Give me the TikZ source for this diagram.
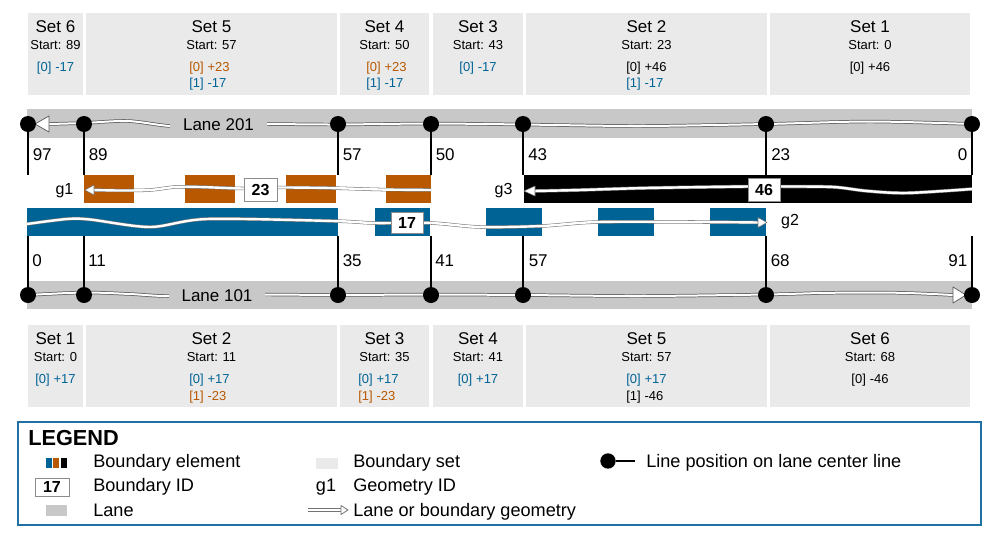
\documentclass[tikz,border=0pt]{standalone}
\usepackage{fontspec}
\setmainfont{Liberation Sans}
\usetikzlibrary{calc}
\definecolor{bblue}{RGB}{0,99,149}
\definecolor{borange}{RGB}{184,88,0}
\definecolor{setgray}{RGB}{234,234,234}
\definecolor{lanegray}{RGB}{200,200,200}
\definecolor{legblue}{RGB}{31,113,163}
\definecolor{idgray}{RGB}{140,140,140}
\newcommand\mkset[6]{%
  \node[setbox, anchor=north west, minimum width={(#3-#2)*0.75pt}] (#1) at (#2,#4) {};
  \node[settitle] (#1t) at ($(#1.north)+(0,13.3)$) {#5};
  \node[setstart] (#1s) at ($(#1.north)+(0,31.5)$) {Start: #6};
}
\begin{document}
\begin{tikzpicture}[x=0.75pt,y=-0.75pt,
  setbox/.style={fill=setgray, inner sep=0pt, outer sep=0pt, minimum height=61.5pt},
  settitle/.style={font=\fontsize{12.75}{15}\selectfont, inner sep=0pt, text height=9.1pt, text depth=0pt},
  setstart/.style={font=\fontsize{9.75}{12}\selectfont, inner sep=0pt, text height=7pt, text depth=0pt},
  entry/.style={setstart},
  numlbl/.style={font=\fontsize{12.75}{15}\selectfont, inner sep=0pt, text height=9.1pt, text depth=0pt},
  lanelbl/.style={fill=lanegray, font=\fontsize{12.75}{15}\selectfont, inner xsep=9.5pt, inner ysep=2pt, text height=9.1pt, text depth=0pt},
  glbl/.style={font=\fontsize{12}{14}\selectfont, inner sep=0pt, text height=8.6pt, text depth=0pt},
  dot/.style={circle, fill=black, inner sep=0pt, minimum size=12pt},
  tick/.style={line width=1.1pt},
  lanegeo/.style={draw=black!65, line width=0.55pt, double=white, double distance=1.5pt},
  lanehead/.style={draw=black!65, fill=white, line width=0.55pt, line join=round},
  bgeo/.style={draw=black!55, line width=0.4pt, double=white, double distance=1.8pt},
  bhead/.style={draw=black!55, fill=white, line width=0.4pt, line join=round},
  leggeo/.style={draw=black!55, line width=0.7pt, double=white, double distance=1.2pt},
  leghead/.style={draw=black!55, fill=white, line width=0.6pt, line join=round},
  idbox/.style={draw=idgray, fill=white, line width=0.6pt, font=\bfseries\fontsize{12}{14}\selectfont, inner sep=0pt, text height=8.6pt, text depth=0pt},
  legtitle/.style={font=\bfseries\fontsize{16.3}{19}\selectfont, inner sep=0pt, text height=11.7pt, text depth=0pt},
  legtext/.style={font=\fontsize{13.6}{16}\selectfont, inner sep=0pt, text height=9.7pt, text depth=0pt},
]
\useasboundingbox (0,0) rectangle (1000,536);

% ---------- top boundary sets ----------
\mkset{ts6}{28}{83}{13}{Set 6}{89}
\mkset{ts5}{86}{337}{13}{Set 5}{57}
\mkset{ts4}{340}{429}{13}{Set 4}{50}
\mkset{ts3}{433}{523}{13}{Set 3}{43}
\mkset{ts2}{526}{767}{13}{Set 2}{23}
\mkset{ts1}{770}{970}{13}{Set 1}{0}
\node[entry, text=bblue] (ts6a) at (55.5,67) {[0]\hspace{0.3em}-17};
\node[entry, text=borange, anchor=west] (ts5a) at (189,67) {[0]\hspace{0.3em}+23};
\node[entry, text=bblue, anchor=west] (ts5b) at (189,83.3) {[1]\hspace{0.3em}-17};
\node[entry, text=borange, anchor=west] (ts4a) at (366,67) {[0]\hspace{0.3em}+23};
\node[entry, text=bblue, anchor=west] (ts4b) at (366,83.3) {[1]\hspace{0.3em}-17};
\node[entry, text=bblue] (ts3a) at (478,67) {[0]\hspace{0.3em}-17};
\node[entry, anchor=west] (ts2a) at (626,67) {[0]\hspace{0.3em}+46};
\node[entry, text=bblue, anchor=west] (ts2b) at (626,83.3) {[1]\hspace{0.3em}-17};
\node[entry] (ts1a) at (870,67) {[0]\hspace{0.3em}+46};

% ---------- bottom boundary sets ----------
\mkset{bs1}{28}{83}{325}{Set 1}{0}
\mkset{bs2}{86}{337}{325}{Set 2}{11}
\mkset{bs3}{340}{429}{325}{Set 3}{35}
\mkset{bs4}{433}{523}{325}{Set 4}{41}
\mkset{bs5}{526}{767}{325}{Set 5}{57}
\mkset{bs6}{770}{970}{325}{Set 6}{68}
\node[entry, text=bblue] (bs1a) at (55.5,379) {[0]\hspace{0.3em}+17};
\node[entry, text=bblue, anchor=west] (bs2a) at (189,379) {[0]\hspace{0.3em}+17};
\node[entry, text=borange, anchor=west] (bs2b) at (189,395.7) {[1]\hspace{0.3em}-23};
\node[entry, text=bblue, anchor=west] (bs3a) at (358,379) {[0]\hspace{0.3em}+17};
\node[entry, text=borange, anchor=west] (bs3b) at (358,395.7) {[1]\hspace{0.3em}-23};
\node[entry, text=bblue] (bs4a) at (478,379) {[0]\hspace{0.3em}+17};
\node[entry, text=bblue, anchor=west] (bs5a) at (626,379) {[0]\hspace{0.3em}+17};
\node[entry, anchor=west] (bs5b) at (626,395.7) {[1]\hspace{0.3em}-46};
\node[entry] (bs6a) at (870,379) {[0]\hspace{0.3em}-46};

% ---------- lanes ----------
\fill[lanegray] (27,109) rectangle (972,138);
\fill[lanegray] (27,281) rectangle (972,309);
\draw[lanegeo] plot[smooth, tension=0.5] coordinates {(972,124) (870,121.5) (766,124) (640,126) (523,124.5) (431,123.5) (338,124.5) (266,124) (200,124) (170,126) (128,121) (84,123) (49,124)};
\draw[lanehead] (35,124) -- (49,116) -- (49,132) -- cycle;
\draw[lanegeo] plot[smooth, tension=0.5] coordinates {(28,295) (84,292.5) (130,294) (165,296) (220,295) (267,294.5) (338,295) (431,294.5) (523,295) (640,296) (766,294.5) (830,292.8) (900,292.8) (953,295)};
\draw[lanehead] (966,295) -- (953,287) -- (953,303) -- cycle;
\node[lanelbl] (l201) at (218.5,124) {Lane 201};
\node[lanelbl] (l101) at (217,295) {Lane 101};

% ---------- boundary elements ----------
\fill[borange] (84,175) rectangle (134,203);
\fill[borange] (185,175) rectangle (235,203);
\fill[borange] (286,175) rectangle (336,203);
\fill[borange] (386,175) rectangle (431,203);
\fill[black] (524,175) rectangle (972,203);
\fill[bblue] (27,208) rectangle (338,236);
\fill[bblue] (375,208) rectangle (430,236);
\fill[bblue] (486,208) rectangle (542,236);
\fill[bblue] (598,208) rectangle (654,236);
\fill[bblue] (710,208) rectangle (766,236);

% ---------- boundary geometries ----------
\draw[bgeo] plot[smooth, tension=0.5] coordinates {(431,190) (380,189.5) (330,188) (277,187.5) (244,188.5) (200,187) (175,187) (150,190) (120,190.5) (93,190)};
\draw[bhead] (85,190) -- (94,185) -- (94,195) -- cycle;
\draw[bgeo] plot[smooth, tension=0.5] coordinates {(27,224) (67,219) (90,219.5) (150,227) (207,219) (333,221) (374,223) (431,223) (480,227) (542,226) (598,222) (700,222) (758,222.5)};
\draw[bhead] (767,222.5) -- (758,217.5) -- (758,227.5) -- cycle;
\draw[bgeo] plot[smooth, tension=0.5] coordinates {(972,189) (907,193) (867,191) (833,187) (780,186.5) (747,186.5) (647,188) (580,190) (535,191)};
\draw[bhead] (524,191) -- (535,186) -- (535,196) -- cycle;

\node[idbox, minimum width=24.75pt, minimum height=17.25pt] (id23) at (260.5,189.5) {23};
\node[idbox, minimum width=24pt, minimum height=17.25pt] (id46) at (764,189.5) {46};
\node[idbox, minimum width=24pt, minimum height=15.75pt] (id17) at (407,222.5) {17};

\node[glbl] (g1) at (64.5,189) {g1};
\node[glbl] (g3) at (503.5,189) {g3};
\node[glbl] (g2) at (790,219.5) {g2};

% ---------- position ticks: lane 201 ----------
\coordinate (t97e) at (28,175);
\coordinate (t89e) at (84,175);
\coordinate (t57e) at (338,175);
\coordinate (t50e) at (431,175);
\coordinate (t43e) at (523,175);
\coordinate (t23e) at (766,175);
\coordinate (t0e) at (972,175);
\node[dot] (t97) at (28,124) {};
\node[dot] (t89) at (84,124) {};
\node[dot] (t57) at (338,124) {};
\node[dot] (t50) at (431,124) {};
\node[dot] (t43) at (523,124) {};
\node[dot] (t23) at (766,124) {};
\node[dot] (t0) at (972,124) {};
\foreach \n in {97,89,57,50,43,23,0} \draw[tick] (t\n) -- (t\n e);
\node[numlbl, anchor=west] (n97) at (32.5,154.5) {97};
\node[numlbl, anchor=west] (n89) at (88.5,154.5) {89};
\node[numlbl, anchor=west] (n57) at (342.5,154.5) {57};
\node[numlbl, anchor=west] (n50) at (435.5,154.5) {50};
\node[numlbl, anchor=west] (n43) at (528,154.5) {43};
\node[numlbl, anchor=west] (n23) at (771,154.5) {23};
\node[numlbl, anchor=east] (n0) at (967.5,154.5) {0};

% ---------- position ticks: lane 101 ----------
\coordinate (b0e) at (28,236);
\coordinate (b11e) at (84,236);
\coordinate (b35e) at (338,236);
\coordinate (b41e) at (431,236);
\coordinate (b57e) at (523,236);
\coordinate (b68e) at (766,236);
\coordinate (b91e) at (972,236);
\node[dot] (b0) at (28,295) {};
\node[dot] (b11) at (84,295) {};
\node[dot] (b35) at (338,295) {};
\node[dot] (b41) at (431,295) {};
\node[dot] (b57) at (523,295) {};
\node[dot] (b68) at (766,295) {};
\node[dot] (b91) at (972,295) {};
\foreach \n in {0,11,35,41,57,68,91} \draw[tick] (b\n e) -- (b\n);
\node[numlbl, anchor=west] (m0) at (32,260.5) {0};
\node[numlbl, anchor=west] (m11) at (88,260.5) {11};
\node[numlbl, anchor=west] (m35) at (342.5,260.5) {35};
\node[numlbl, anchor=west] (m41) at (435,260.5) {41};
\node[numlbl, anchor=west] (m57) at (528.5,260.5) {57};
\node[numlbl, anchor=west] (m68) at (770.5,260.5) {68};
\node[numlbl, anchor=east] (m91) at (967.5,260.5) {91};

% ---------- legend ----------
\draw[legblue, line width=1.5pt] (18,422) rectangle (981,525);
\node[legtitle, anchor=west] (legt) at (28,438) {LEGEND};
\fill[bblue] (45.7,458) rectangle (51.7,468);
\fill[borange] (52.7,458) rectangle (59.3,468);
\fill[black] (60.7,458) rectangle (67.3,468);
\node[legtext, anchor=west] (lt1) at (93,461) {Boundary element};
\node[idbox, minimum width=25.5pt, minimum height=13.5pt] (leg17) at (52,487) {17};
\node[legtext, anchor=west] (lt2) at (93,485.5) {Boundary ID};
\fill[lanegray] (46,505) rectangle (67,516);
\node[legtext, anchor=west] (lt3) at (93,510) {Lane};
\fill[setgray] (316,458) rectangle (338,469);
\node[legtext, anchor=west] (lt4) at (353,461) {Boundary set};
\node[legtext] (legg1) at (326,485.5) {g1};
\node[legtext, anchor=west] (lt5) at (353,485.5) {Geometry ID};
\coordinate (la1) at (308,510);
\coordinate (la2) at (341,510);
\draw[leggeo] (la1) -- (la2);
\draw[leghead] (348,510) -- (341,505.5) -- (341,514.5) -- cycle;
\node[legtext, anchor=west] (lt6) at (353,510) {Lane or boundary geometry};
\node[dot, minimum size=11.5pt] (legdot) at (608,461) {};
\coordinate (legdote) at (635,461);
\draw[tick] (legdot) -- (legdote);
\node[legtext, anchor=west] (lt7) at (646,461) {Line position on lane center line};
\end{tikzpicture}
\end{document}
